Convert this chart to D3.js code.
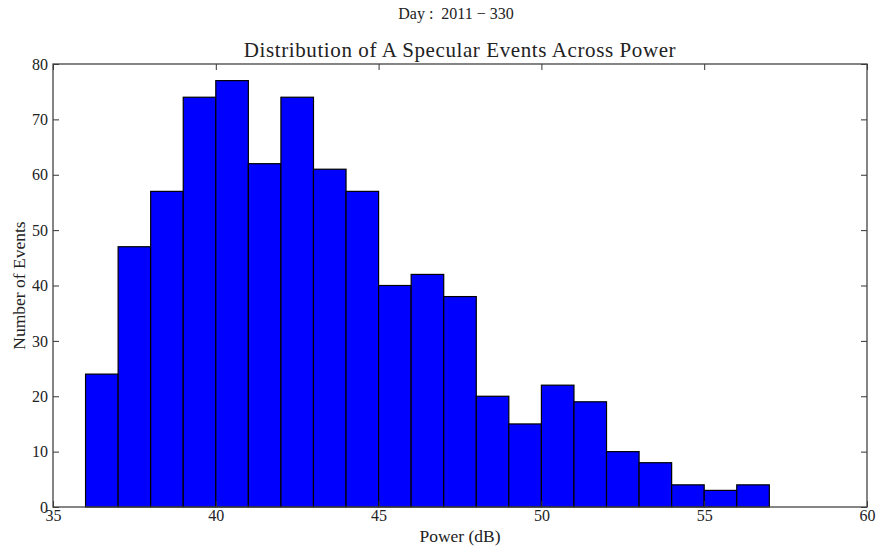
<!DOCTYPE html>
<html>
<head>
<meta charset="utf-8">
<script src="https://cdn.jsdelivr.net/npm/d3@7"></script>
<style>
  body { margin: 0; background: #fff; }
  svg text { font-family: "Liberation Serif", "DejaVu Serif", serif; fill: #222; }
</style>
</head>
<body>
<div id="chart"></div>
<script>
// histogram bins (1 dB wide) and counts
const binStarts = [36, 37, 38, 39, 40, 41, 42, 43, 44, 45, 46, 47, 48, 49, 50, 51, 52, 53, 54, 55, 56];
const counts = [24, 47, 57, 74, 77, 62, 74, 61, 57, 40, 42, 38, 20, 15, 22, 19, 10, 8, 4, 3, 4];
const binWidth = 1;
const xTicks = [35, 40, 45, 50, 55, 60];
const yTicks = [0, 10, 20, 30, 40, 50, 60, 70, 80];
const suptitle = "Day :  2011 \u2212 330";
const title = "Distribution of A Specular Events Across Power";

const W = 878, H = 550;
const margin = {top: 64, right: 11, bottom: 43, left: 53};
const width = W - margin.left - margin.right;
const height = H - margin.top - margin.bottom;

const svgRoot = d3.select("#chart").append("svg")
    .attr("width", W)
    .attr("height", H);

const svg = svgRoot.append("g")
    .attr("transform", `translate(${margin.left}, ${margin.top})`);

const x = d3.scaleLinear().domain([35, 60]).range([0, width]);
const y = d3.scaleLinear().domain([0, 80]).range([height, 0]);

// bars
svg.selectAll("rect.bar")
    .data(binStarts.map((b, i) => ({x0: b, x1: b + binWidth, n: counts[i]})))
    .enter().append("rect")
    .attr("class", "bar")
    .attr("x", d => x(d.x0))
    .attr("y", d => y(d.n))
    .attr("width", d => x(d.x1) - x(d.x0))
    .attr("height", d => y(0) - y(d.n))
    .attr("fill", "#0000ff")
    .attr("stroke", "#000")
    .attr("stroke-width", 1.2);

// axes, ticks pointing inward on all four sides
function styleAxis(g) {
    g.select(".domain").remove();
    g.selectAll(".tick line").attr("stroke", "#333").attr("stroke-width", 1);
    g.selectAll(".tick text").attr("font-size", "16px");
}

svg.append("g")
    .attr("transform", `translate(0, ${height})`)
    .call(d3.axisBottom(x).tickValues(xTicks).tickSize(-6).tickPadding(3).tickFormat(d3.format("d")))
    .call(styleAxis);

svg.append("g")
    .call(d3.axisTop(x).tickValues(xTicks).tickSize(-6).tickFormat(""))
    .call(styleAxis);

svg.append("g")
    .call(d3.axisLeft(y).tickValues(yTicks).tickSize(-6).tickPadding(5).tickFormat(d3.format("d")))
    .call(styleAxis);

svg.append("g")
    .attr("transform", `translate(${width}, 0)`)
    .call(d3.axisRight(y).tickValues(yTicks).tickSize(-6).tickFormat(""))
    .call(styleAxis);

// frame
svg.append("rect")
    .attr("width", width)
    .attr("height", height)
    .attr("fill", "none")
    .attr("stroke", "#444")
    .attr("stroke-width", 1.3);

// labels
svg.append("text")
    .attr("x", width / 2)
    .attr("y", height + 35)
    .attr("text-anchor", "middle")
    .attr("font-size", "17.5px")
    .text("Power (dB)");

svg.append("text")
    .attr("transform", `translate(${-28}, ${height / 2}) rotate(-90)`)
    .attr("text-anchor", "middle")
    .attr("font-size", "17.5px")
    .text("Number of Events");

svg.append("text")
    .attr("x", width / 2)
    .attr("y", -7)
    .attr("text-anchor", "middle")
    .attr("font-size", "21px")
    .attr("letter-spacing", "0.6px")
    .text(title);

svgRoot.append("text")
    .attr("x", W / 2 + 17)
    .attr("y", 19)
    .attr("text-anchor", "middle")
    .attr("font-size", "16px")
    .attr("xml:space", "preserve")
    .text(suptitle);
</script>
</body>
</html>
